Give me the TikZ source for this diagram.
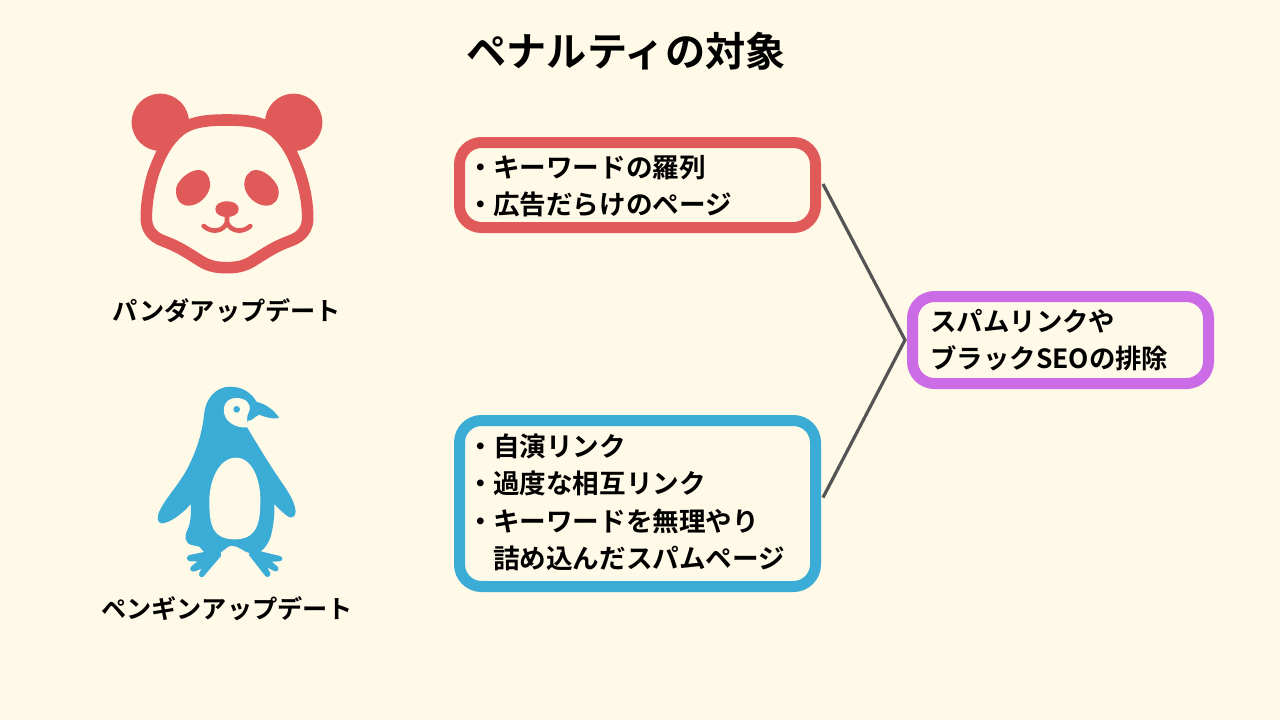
\documentclass[tikz,border=0pt]{standalone}
\usepackage{fontspec}
\newfontfamily\cjk{Noto Sans CJK JP Bold}
\definecolor{bg}{HTML}{FFF9E8}
\definecolor{pred}{HTML}{E05A5A}
\definecolor{pblue}{HTML}{3BACD6}
\definecolor{ppurple}{HTML}{CB6CE6}
\definecolor{pline}{HTML}{545454}
\tikzset{
  card/.style={draw=#1,line width=5.5pt,rounded corners=11pt,fill=none,inner sep=0pt,anchor=north west,font=\cjk\fontsize{13.3}{18.6}\selectfont},
  headlabel/.style={font=\cjk\fontsize{12.6}{16}\selectfont,inner sep=0pt},
  titlelabel/.style={font=\cjk\fontsize{20.1}{24}\selectfont,inner sep=0pt},
  link/.style={draw=pline,line width=1.6pt}
}
\newcommand{\bul}{\hspace{8pt}\makebox[8.8pt][l]{\hspace{-4pt}・}}
\newcommand{\cardtext}[3]{\raisebox{#1}[\height][\depth]{\parbox{#2}{\raggedright #3}}}
\begin{document}
\begin{tikzpicture}[x=0.5pt,y=-0.5pt]
\fill[bg] (0,0) rectangle (1280,720);
\useasboundingbox (0,0) rectangle (1280,720);
\node[titlelabel] (title) at (626,51) {ペナルティの対象};
% panda
\begin{scope}[shift={(120,85)},x=0.16667pt,y=-0.16667pt]
\fill[pred] (121,112) circle (86);
\fill[pred] (521,112) circle (86);
\draw[pred,line width=5.8pt,fill=bg] (320,105)
 .. controls (390,105) and (440,112) .. (475,150)
 .. controls (510,185) and (525,225) .. (540,265)
 .. controls (553,305) and (563,350) .. (563,400)
 .. controls (563,430) and (547,455) .. (510,468)
 .. controls (465,484) and (435,505) .. (395,530)
 .. controls (370,545) and (345,548) .. (320,548)
 .. controls (295,548) and (270,545) .. (245,530)
 .. controls (205,505) and (175,484) .. (130,468)
 .. controls (95,455) and (79,430) .. (79,400)
 .. controls (79,350) and (88,305) .. (100,265)
 .. controls (115,225) and (130,185) .. (165,150)
 .. controls (200,112) and (250,105) .. (320,105) -- cycle;
\fill[pred] (168,312) .. controls (170,290) and (205,255) .. (235,255)
 .. controls (260,255) and (272,280) .. (270,305)
 .. controls (265,335) and (235,362) .. (205,362)
 .. controls (180,362) and (166,340) .. (168,312) -- cycle;
\fill[pred] (476,316) .. controls (474,294) and (439,255) .. (409,255)
 .. controls (384,255) and (372,278) .. (373,303)
 .. controls (378,335) and (409,362) .. (439,362)
 .. controls (464,362) and (478,342) .. (476,316) -- cycle;
\fill[pred] (321,349) .. controls (345,349) and (356,360) .. (356,373)
 .. controls (356,388) and (338,396) .. (321,396)
 .. controls (303,396) and (286,388) .. (286,373)
 .. controls (286,360) and (297,349) .. (321,349) -- cycle;
\draw[pred,line width=2.3pt,line cap=round] (321,390) -- (321,412)
 (251,423) .. controls (275,445) and (310,440) .. (321,412)
 .. controls (332,440) and (367,445) .. (391,423);
\end{scope}
\node[headlabel] (pandalabel) at (227,311) {パンダアップデート};
% penguin
\begin{scope}[shift={(150,380)},x=0.16667pt,y=-0.16667pt]
\fill[pblue] (240,20)
 .. controls (280,20) and (305,40) .. (320,66)
 .. controls (350,72) and (372,92) .. (387,112)
 .. controls (380,120) and (345,112) .. (328,104)
 .. controls (315,108) and (305,125) .. (293,122)
 -- (290,140)
 .. controls (320,190) and (350,240) .. (380,285)
 .. controls (405,322) and (435,360) .. (437,395)
 .. controls (436,410) and (425,416) .. (415,410)
 .. controls (400,400) and (385,385) .. (373,372)
 .. controls (374,410) and (370,440) .. (362,470)
 .. controls (355,490) and (345,505) .. (332,514)
 -- (390,528) .. controls (400,532) and (400,542) .. (388,544)
 -- (365,545) -- (383,560) .. controls (390,570) and (380,578) .. (370,572)
 -- (352,562) -- (361,580) .. controls (362,590) and (352,594) .. (346,588)
 -- (296,524) -- (300,520)
 .. controls (280,515) and (265,497) .. (245,497)
 .. controls (235,497) and (225,508) .. (212,518)
 -- (213,528) -- (160,590) .. controls (152,594) and (145,588) .. (148,578)
 -- (155,566) -- (135,574) .. controls (122,578) and (116,566) .. (125,558)
 -- (143,544) -- (120,544) .. controls (108,540) and (108,530) .. (118,525)
 -- (162,516) -- (148,500) -- (125,495)
 .. controls (105,490) and (102,470) .. (112,450)
 .. controls (122,430) and (124,400) .. (122,372)
 .. controls (95,405) and (55,430) .. (35,430)
 .. controls (20,428) and (20,410) .. (30,390)
 .. controls (50,350) and (90,310) .. (115,260)
 .. controls (135,220) and (155,170) .. (162,105)
 .. controls (165,60) and (195,20) .. (240,20) -- cycle;
\fill[bg] (258,233)
 .. controls (305,233) and (332,295) .. (331,365)
 .. controls (330,410) and (330,478) .. (255,478)
 .. controls (190,478) and (178,440) .. (178,365)
 .. controls (178,295) and (210,233) .. (258,233) -- cycle;
\fill[bg] (260,54)
 .. controls (285,54) and (305,70) .. (298,92)
 .. controls (290,105) and (288,125) .. (296,141)
 .. controls (270,146) and (245,135) .. (232,120)
 .. controls (215,100) and (215,54) .. (260,54) -- cycle;
\fill[pblue] (260,88) circle (10);
\end{scope}
\node[headlabel] (penguinlabel) at (227,609) {ペンギンアップデート};
% cards
\node[card=pred,minimum width=178pt,minimum height=42.5pt] (redcard) at (454,137)
 {\cardtext{-0.7pt}{178pt}{\bul キーワードの羅列\\\bul 広告だらけのページ}};
\node[card=pblue,minimum width=178pt,minimum height=83pt] (bluecard) at (454,415)
 {\cardtext{0.6pt}{178pt}{\bul 自演リンク\\\bul 過度な相互リンク\\\bul キーワードを無理やり\\\hspace{16.8pt}詰め込んだスパムページ}};
\node[card=ppurple,minimum width=148pt,minimum height=43.5pt,font=\cjk\fontsize{13.2}{18.6}\selectfont] (purplecard) at (907,291)
 {\cardtext{-0.2pt}{148pt}{\hspace{9pt}スパムリンクや\\\hspace{9pt}ブラックSEOの排除}};
\coordinate (redend) at ([xshift=1pt,yshift=0.5pt]redcard.east);
\coordinate (blueend) at ([xshift=1pt,yshift=3pt]bluecard.east);
\coordinate (joint) at ([xshift=-1pt]purplecard.west);
\draw[link] (redend) -- (joint) -- (blueend);
\end{tikzpicture}
\end{document}
